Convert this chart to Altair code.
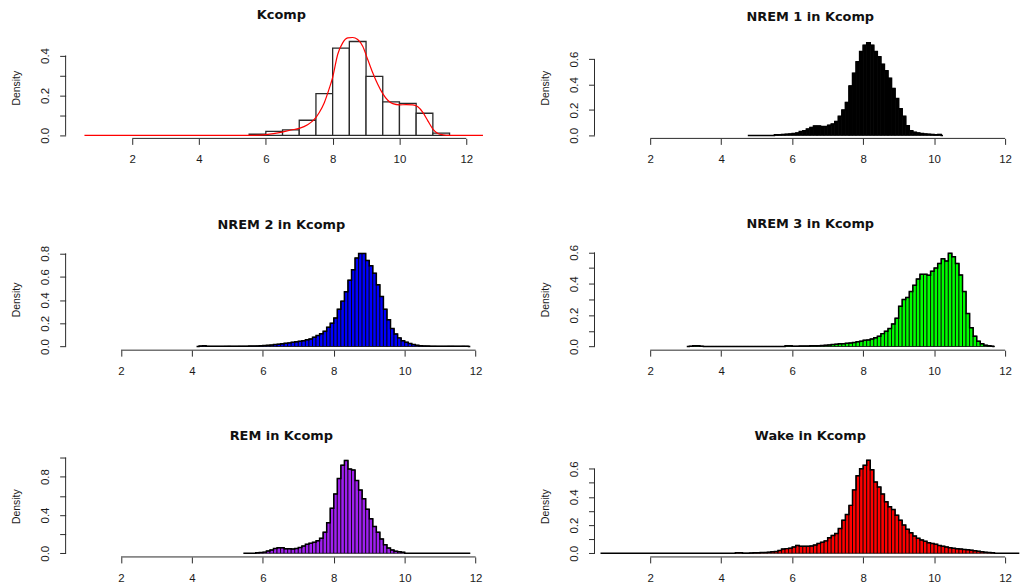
import altair as alt
import pandas as pd

# ------------------------------------------------------------------ data
TICKS_X = [2, 4, 6, 8, 10, 12]

# Kcomp (bin width 0.5)
kc_start, kc_width = 5.5, 0.5
kc_heights = [0.007, 0.02, 0.028, 0.076, 0.209, 0.437, 0.47, 0.295, 0.168, 0.16, 0.111, 0.012]
kc_dens_x = [0.57, 5.5, 6.0, 6.45, 6.75, 7.0, 7.25, 7.45, 7.6, 7.75, 7.9, 8.0, 8.15, 8.3, 8.45,
             8.6, 8.75, 8.9, 9.05, 9.2, 9.35, 9.5, 9.65, 9.8, 10.0, 10.2, 10.4, 10.55, 10.7,
             10.85, 11.0, 11.15, 11.3, 11.5, 12.5]
kc_dens_y = [0.0, 0.0, 0.004, 0.015, 0.027, 0.035, 0.053, 0.08, 0.115, 0.164, 0.236, 0.29, 0.405,
             0.463, 0.488, 0.49, 0.48, 0.446, 0.38, 0.314, 0.256, 0.209, 0.176, 0.159, 0.153,
             0.154, 0.153, 0.143, 0.115, 0.073, 0.032, 0.01, 0.003, 0.0, 0.0]

# NREM 1 (bin width 0.1)
n1_start, n1_width = 5.5, 0.1
n1_heights = [0.005, 0.006, 0.008, 0.01, 0.012,
              0.015, 0.02, 0.03, 0.037, 0.05, 0.063, 0.075, 0.075, 0.07, 0.07,
              0.08, 0.09, 0.11, 0.15, 0.2, 0.26, 0.39, 0.49, 0.58, 0.66,
              0.71, 0.73, 0.71, 0.66, 0.62, 0.56, 0.51, 0.45, 0.37, 0.29,
              0.21, 0.15, 0.076, 0.037, 0.025, 0.02, 0.015, 0.012, 0.01, 0.008,
              0.006, 0.008]
n1_range = [4.75, 10.25]

# NREM 2
n2_start, n2_width = 4.2, 0.1
n2_heights = [0.004, 0.006, 0.002, 0.001, 0.001, 0.001, 0.001, 0.002, 0.003, 0.002,
              0.002, 0.003, 0.003, 0.003, 0.004, 0.004, 0.005, 0.006,
              0.008, 0.01, 0.012, 0.017, 0.02, 0.023, 0.027, 0.031, 0.036, 0.04,
              0.045, 0.05, 0.057, 0.065, 0.08, 0.094, 0.11, 0.13, 0.165, 0.2,
              0.245, 0.32, 0.39, 0.47, 0.57, 0.66, 0.76, 0.8, 0.8, 0.74,
              0.695, 0.63, 0.53, 0.43, 0.32, 0.23, 0.154, 0.108, 0.074, 0.05,
              0.037, 0.026, 0.017, 0.01, 0.007, 0.005,
              0.004, 0.003, 0.003, 0.002, 0.002, 0.002, 0.003, 0.003, 0.002, 0.002, 0.003, 0.002]
n2_range = [4.13, 11.85]

# NREM 3
n3_start, n3_width = 3.1, 0.1
n3_heights = [0.002, 0.004, 0.004, 0.002,
              0.0, 0.0, 0.0, 0.0, 0.0, 0.0, 0.0, 0.0, 0.0, 0.0, 0.0, 0.0,
              0.0, 0.0, 0.0, 0.0, 0.0, 0.0, 0.0, 0.0, 0.0, 0.0, 0.0,
              0.004, 0.004, 0.002, 0.002, 0.003, 0.003, 0.003, 0.004, 0.004, 0.005, 0.006,
              0.008, 0.01, 0.012, 0.015, 0.017, 0.018, 0.02, 0.022, 0.025, 0.03, 0.034,
              0.04, 0.042, 0.048, 0.055, 0.065, 0.082, 0.097, 0.114, 0.144, 0.18,
              0.256, 0.3, 0.313, 0.35, 0.39, 0.43, 0.46, 0.46, 0.455, 0.48,
              0.50, 0.53, 0.56, 0.545, 0.594, 0.573, 0.53, 0.456, 0.35, 0.21,
              0.12, 0.066, 0.034, 0.017, 0.008, 0.004, 0.002]
n3_range = [3.03, 11.66]

# REM
rem_start, rem_width = 5.8, 0.1
rem_heights = [0.005, 0.008,
               0.012, 0.024, 0.035, 0.05, 0.058, 0.057, 0.046, 0.047, 0.045, 0.05,
               0.06, 0.075, 0.093, 0.104, 0.114, 0.13, 0.156, 0.22, 0.32, 0.47,
               0.62, 0.78, 0.92, 0.97, 0.88, 0.87, 0.76, 0.66, 0.57, 0.46,
               0.36, 0.28, 0.22, 0.15, 0.09, 0.055, 0.035, 0.022, 0.015, 0.01]
rem_range = [5.45, 11.85]

# Wake
wk_start, wk_width = 4.4, 0.1
wk_heights = [0.004, 0.004, 0.0, 0.0, 0.002, 0.003, 0.004, 0.005, 0.006, 0.008, 0.01, 0.012,
              0.02, 0.03, 0.033, 0.036,
              0.045, 0.056, 0.05, 0.05, 0.05, 0.052, 0.058, 0.07, 0.078, 0.088,
              0.11, 0.127, 0.14, 0.176, 0.235, 0.275, 0.34, 0.45, 0.55, 0.6,
              0.624, 0.66, 0.593, 0.506, 0.47, 0.42, 0.365, 0.33, 0.31, 0.27,
              0.235, 0.2, 0.17, 0.145, 0.122, 0.106, 0.095, 0.085, 0.075, 0.07,
              0.064, 0.055, 0.05, 0.045, 0.04, 0.035, 0.032, 0.03, 0.027, 0.025,
              0.022, 0.018, 0.014, 0.01, 0.007, 0.005, 0.003]
wk_range = [0.6, 12.4]

# ------------------------------------------------------------------ layout / style
W, H = 425, 102
AX = "#2a2a2a"
TXT = "#1a1a1a"
FONT = "Liberation Sans"


def make_panel(title, start, width, heights, fill, stroke, sw, xdom, ydom, yticks, mod,
               lx, ly, line_color, line_w, interp, t_off):
    n = len(heights)
    x0 = [round(start + i * width, 4) for i in range(n)]
    x1 = [round(start + (i + 1) * width, 4) for i in range(n)]
    bars = pd.DataFrame({"x": x0, "x2": x1, "y": heights, "y2": [0.0] * n})
    xs = alt.Scale(domain=xdom, nice=False, zero=False)
    ys = alt.Scale(domain=ydom, nice=False, zero=False)
    expr = f"round(datum.value*10) % {mod} == 0 ? format(datum.value, '.1f') : ''"
    xaxis = alt.Axis(values=TICKS_X, domain=False, grid=False, ticks=True, tickSize=6,
                     tickColor=AX, tickWidth=1, labelFont=FONT, labelFontSize=11.5,
                     labelColor=TXT, labelPadding=9.4, labelFlush=False, labelOverlap=False,
                     title=None, format="d")
    yaxis = alt.Axis(values=yticks, domain=False, grid=False, ticks=True, tickSize=6,
                     tickColor=AX, tickWidth=1, labelExpr=expr, labelAngle=270,
                     labelAlign="center", labelBaseline="bottom", labelPadding=9,
                     labelFont=FONT, labelFontSize=11.5, labelColor=TXT, labelFlush=False,
                     labelOverlap=False, title="Density", titleFont=FONT, titleFontSize=10.5,
                     titleFontWeight="normal", titleColor=TXT, titleAngle=270,
                     titleAlign="center", titleBaseline="bottom", titleX=-44.7, titleY=H / 2)
    X = lambda: alt.X("x:Q", scale=xs, axis=xaxis)
    Y = lambda: alt.Y("y:Q", scale=ys, axis=yaxis)
    bar_layer = alt.Chart(bars).mark_rect(fill=fill, stroke=stroke, strokeWidth=sw).encode(
        x=X(), x2="x2", y=Y(), y2="y2")
    line_df = pd.DataFrame({"x": lx, "y": ly})
    line_layer = alt.Chart(line_df).mark_line(color=line_color, strokeWidth=line_w,
                                              interpolate=interp).encode(x=X(), y=Y())
    yrule = alt.Chart(pd.DataFrame({"y": [0.0], "y2": [yticks[-1]]})).mark_rule(
        color=AX, strokeWidth=1).encode(x=alt.value(0), y=Y(), y2="y2")
    xrule = alt.Chart(pd.DataFrame({"x": [TICKS_X[0]], "x2": [TICKS_X[-1]]})).mark_rule(
        color=AX, strokeWidth=1).encode(x=X(), x2="x2", y=alt.value(H))
    return alt.layer(bar_layer, line_layer, yrule, xrule).properties(
        width=W, height=H,
        title=alt.TitleParams(text=title, font="DejaVu Sans", fontSize=13, fontWeight="bold",
                              color="#111111", anchor="middle", frame="group",
                              baseline="alphabetic", offset=t_off, dx=4.5))


def step_line(start, width, heights, rng):
    n = len(heights)
    xs = [rng[0]] + [round(start + i * width, 4) for i in range(n)] + [round(start + n * width, 4), rng[1]]
    ys = [0.0] + list(heights) + [0.0, 0.0]
    return xs, ys


XL1 = [0.006, 0.006 + W / 33.6]
XL = [0.438, 0.438 + W / 35.67]
XR = [0.431, 0.431 + W / 35.7]

p1 = make_panel("Kcomp", kc_start, kc_width, kc_heights, "white", "#2a2a2a", 1.3,
                XL1, [-3 / 201, -3 / 201 + H / 201], [0, 0.1, 0.2, 0.3, 0.4], 2,
                kc_dens_x, kc_dens_y, "#ff0000", 1.2, "monotone", 2.8)
lx, ly = step_line(n1_start, n1_width, n1_heights, n1_range)
p2 = make_panel("NREM 1 in Kcomp", n1_start, n1_width, n1_heights, "black", "black", 0.8,
                XR, [-3 / 127.8, -3 / 127.8 + H / 127.8], [0, 0.2, 0.4, 0.6], 2,
                lx, ly, "black", 1.5, "step-after", 2.8)
lx, ly = step_line(n2_start, n2_width, n2_heights, n2_range)
p3 = make_panel("NREM 2 in Kcomp", n2_start, n2_width, n2_heights, "#0000ff", "black", 0.8,
                XL, [-3.7 / 117, -3.7 / 117 + H / 117], [0, 0.2, 0.4, 0.6, 0.8], 2,
                lx, ly, "black", 1.5, "step-after", 3.2)
lx, ly = step_line(n3_start, n3_width, n3_heights, n3_range)
p4 = make_panel("NREM 3 in Kcomp", n3_start, n3_width, n3_heights, "#00ff00", "black", 0.8,
                XR, [-3.7 / 157.7, -3.7 / 157.7 + H / 157.7], [0, 0.1, 0.2, 0.3, 0.4, 0.5, 0.6], 2,
                lx, ly, "black", 1.5, "step-after", 3.2)
lx, ly = step_line(rem_start, rem_width, rem_heights, rem_range)
p5 = make_panel("REM in Kcomp", rem_start, rem_width, rem_heights, "#a020f0", "black", 0.8,
                XL, [-3.7 / 96.3, -3.7 / 96.3 + H / 96.3], [0, 0.2, 0.4, 0.6, 0.8, 1.0], 4,
                lx, ly, "black", 1.5, "step-after", 3.0)
lx, ly = step_line(wk_start, wk_width, wk_heights, wk_range)
p6 = make_panel("Wake in Kcomp", wk_start, wk_width, wk_heights, "#ff0000", "black", 0.8,
                XR, [-3.7 / 141.7, -3.7 / 141.7 + H / 141.7], [0, 0.1, 0.2, 0.3, 0.4, 0.5, 0.6], 2,
                lx, ly, "black", 1.5, "step-after", 3.0)

chart = alt.vconcat(
    alt.hconcat(p1, p2, spacing=52),
    alt.hconcat(p3, p4, spacing=52),
    alt.hconcat(p5, p6, spacing=52),
    spacing=53,
).properties(
    padding={"left": 11, "top": 7.5, "right": 0, "bottom": 0},
    background="white",
).configure_view(stroke=None)

chart.save("out.html", embed_options={"renderer": "svg", "actions": False})
